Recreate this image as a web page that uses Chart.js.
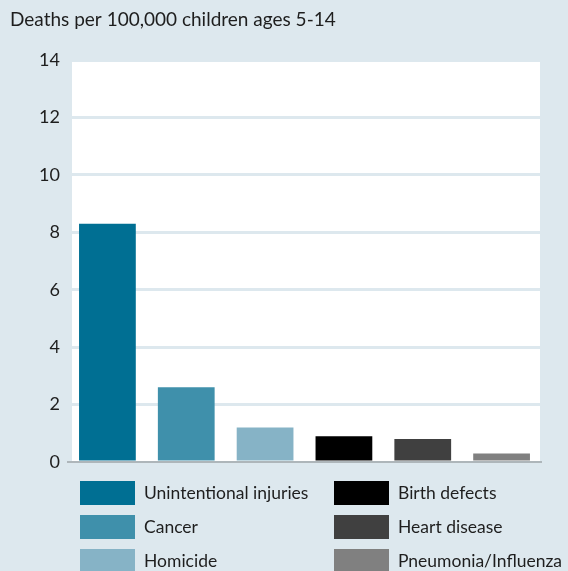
<!DOCTYPE html>
<html>
<head>
<meta charset="utf-8">
<script src="https://cdn.jsdelivr.net/npm/chart.js@4/dist/chart.umd.min.js"></script>
<style>
html,body{margin:0;padding:0;background:#dde8ee;}
#wrap{width:568px;height:571px;position:relative;}
</style>
</head>
<body>
<div id="wrap"><canvas id="c" width="568" height="571"></canvas></div>
<script>
const titleText = "Deaths per 100,000 children ages 5-14";
const categories = ["Unintentional injuries","Cancer","Homicide","Birth defects","Heart disease","Pneumonia/Influenza"];
const deathRates = [8.3, 2.6, 1.2, 0.9, 0.8, 0.3];
const barColors = ["#006f93","#3f90ab","#86b3c6","#000000","#404040","#808080"];
const yTicks = [0,2,4,6,8,10,12,14];

const FONT = "Lato, 'Noto Sans', sans-serif";
const BG = "#dde8ee";

const decor = {
  id: 'decor',
  beforeDraw(chart) {
    const ctx = chart.ctx, a = chart.chartArea;
    ctx.save();
    ctx.fillStyle = BG;
    ctx.fillRect(0, 0, chart.width, chart.height);
    ctx.fillStyle = "#ffffff";
    ctx.fillRect(a.left + 4, a.top, a.right - a.left - 5, a.bottom - a.top);
    ctx.fillStyle = "#1e1e1e";
    ctx.font = "19px " + FONT;
    ctx.textBaseline = "middle";
    ctx.textAlign = "left";
    ctx.fillText(titleText, 10, 20);
    ctx.restore();
  },
  afterDraw(chart) {
    const ctx = chart.ctx;
    const labels = chart.data.labels;
    const colors = chart.data.datasets[0].backgroundColor;
    ctx.save();
    ctx.font = "17.5px " + FONT;
    ctx.textBaseline = "middle";
    ctx.textAlign = "left";
    const colX = [80, 334];
    const rowY = [493, 527, 561];
    labels.forEach((lab, i) => {
      const col = Math.floor(i / 3), row = i % 3;
      const x = colX[col], y = rowY[row];
      ctx.fillStyle = colors[i];
      ctx.fillRect(x, y - 12, 55, 24);
      ctx.fillStyle = "#1e1e1e";
      ctx.fillText(lab, x + 64, y);
    });
    ctx.restore();
  }
};

new Chart(document.getElementById('c'), {
  type: 'bar',
  data: {
    labels: categories,
    datasets: [{
      data: deathRates,
      backgroundColor: barColors,
      borderWidth: 0,
      categoryPercentage: 1,
      barPercentage: 0.72
    }]
  },
  options: {
    responsive: false,
    animation: false,
    layout: { padding: { top: 60, bottom: 109, right: 27, left: 0 } },
    plugins: { legend: { display: false }, title: { display: false }, tooltip: { enabled: false } },
    scales: {
      x: {
        grid: { display: false, drawTicks: false },
        ticks: { display: false },
        border: { display: true, color: "#aeb6ba", width: 2 }
      },
      y: {
        min: 0, max: 14,
        afterBuildTicks(scale) { scale.ticks = yTicks.map(v => ({ value: v })); },
        afterFit(scale) { scale.width = 68; },
        grid: { color: BG, lineWidth: 3, drawTicks: false },
        border: { display: false },
        ticks: { padding: 8, color: "#1e1e1e", font: { family: FONT, size: 18 } }
      }
    }
  },
  plugins: [decor]
});
</script>
</body>
</html>
